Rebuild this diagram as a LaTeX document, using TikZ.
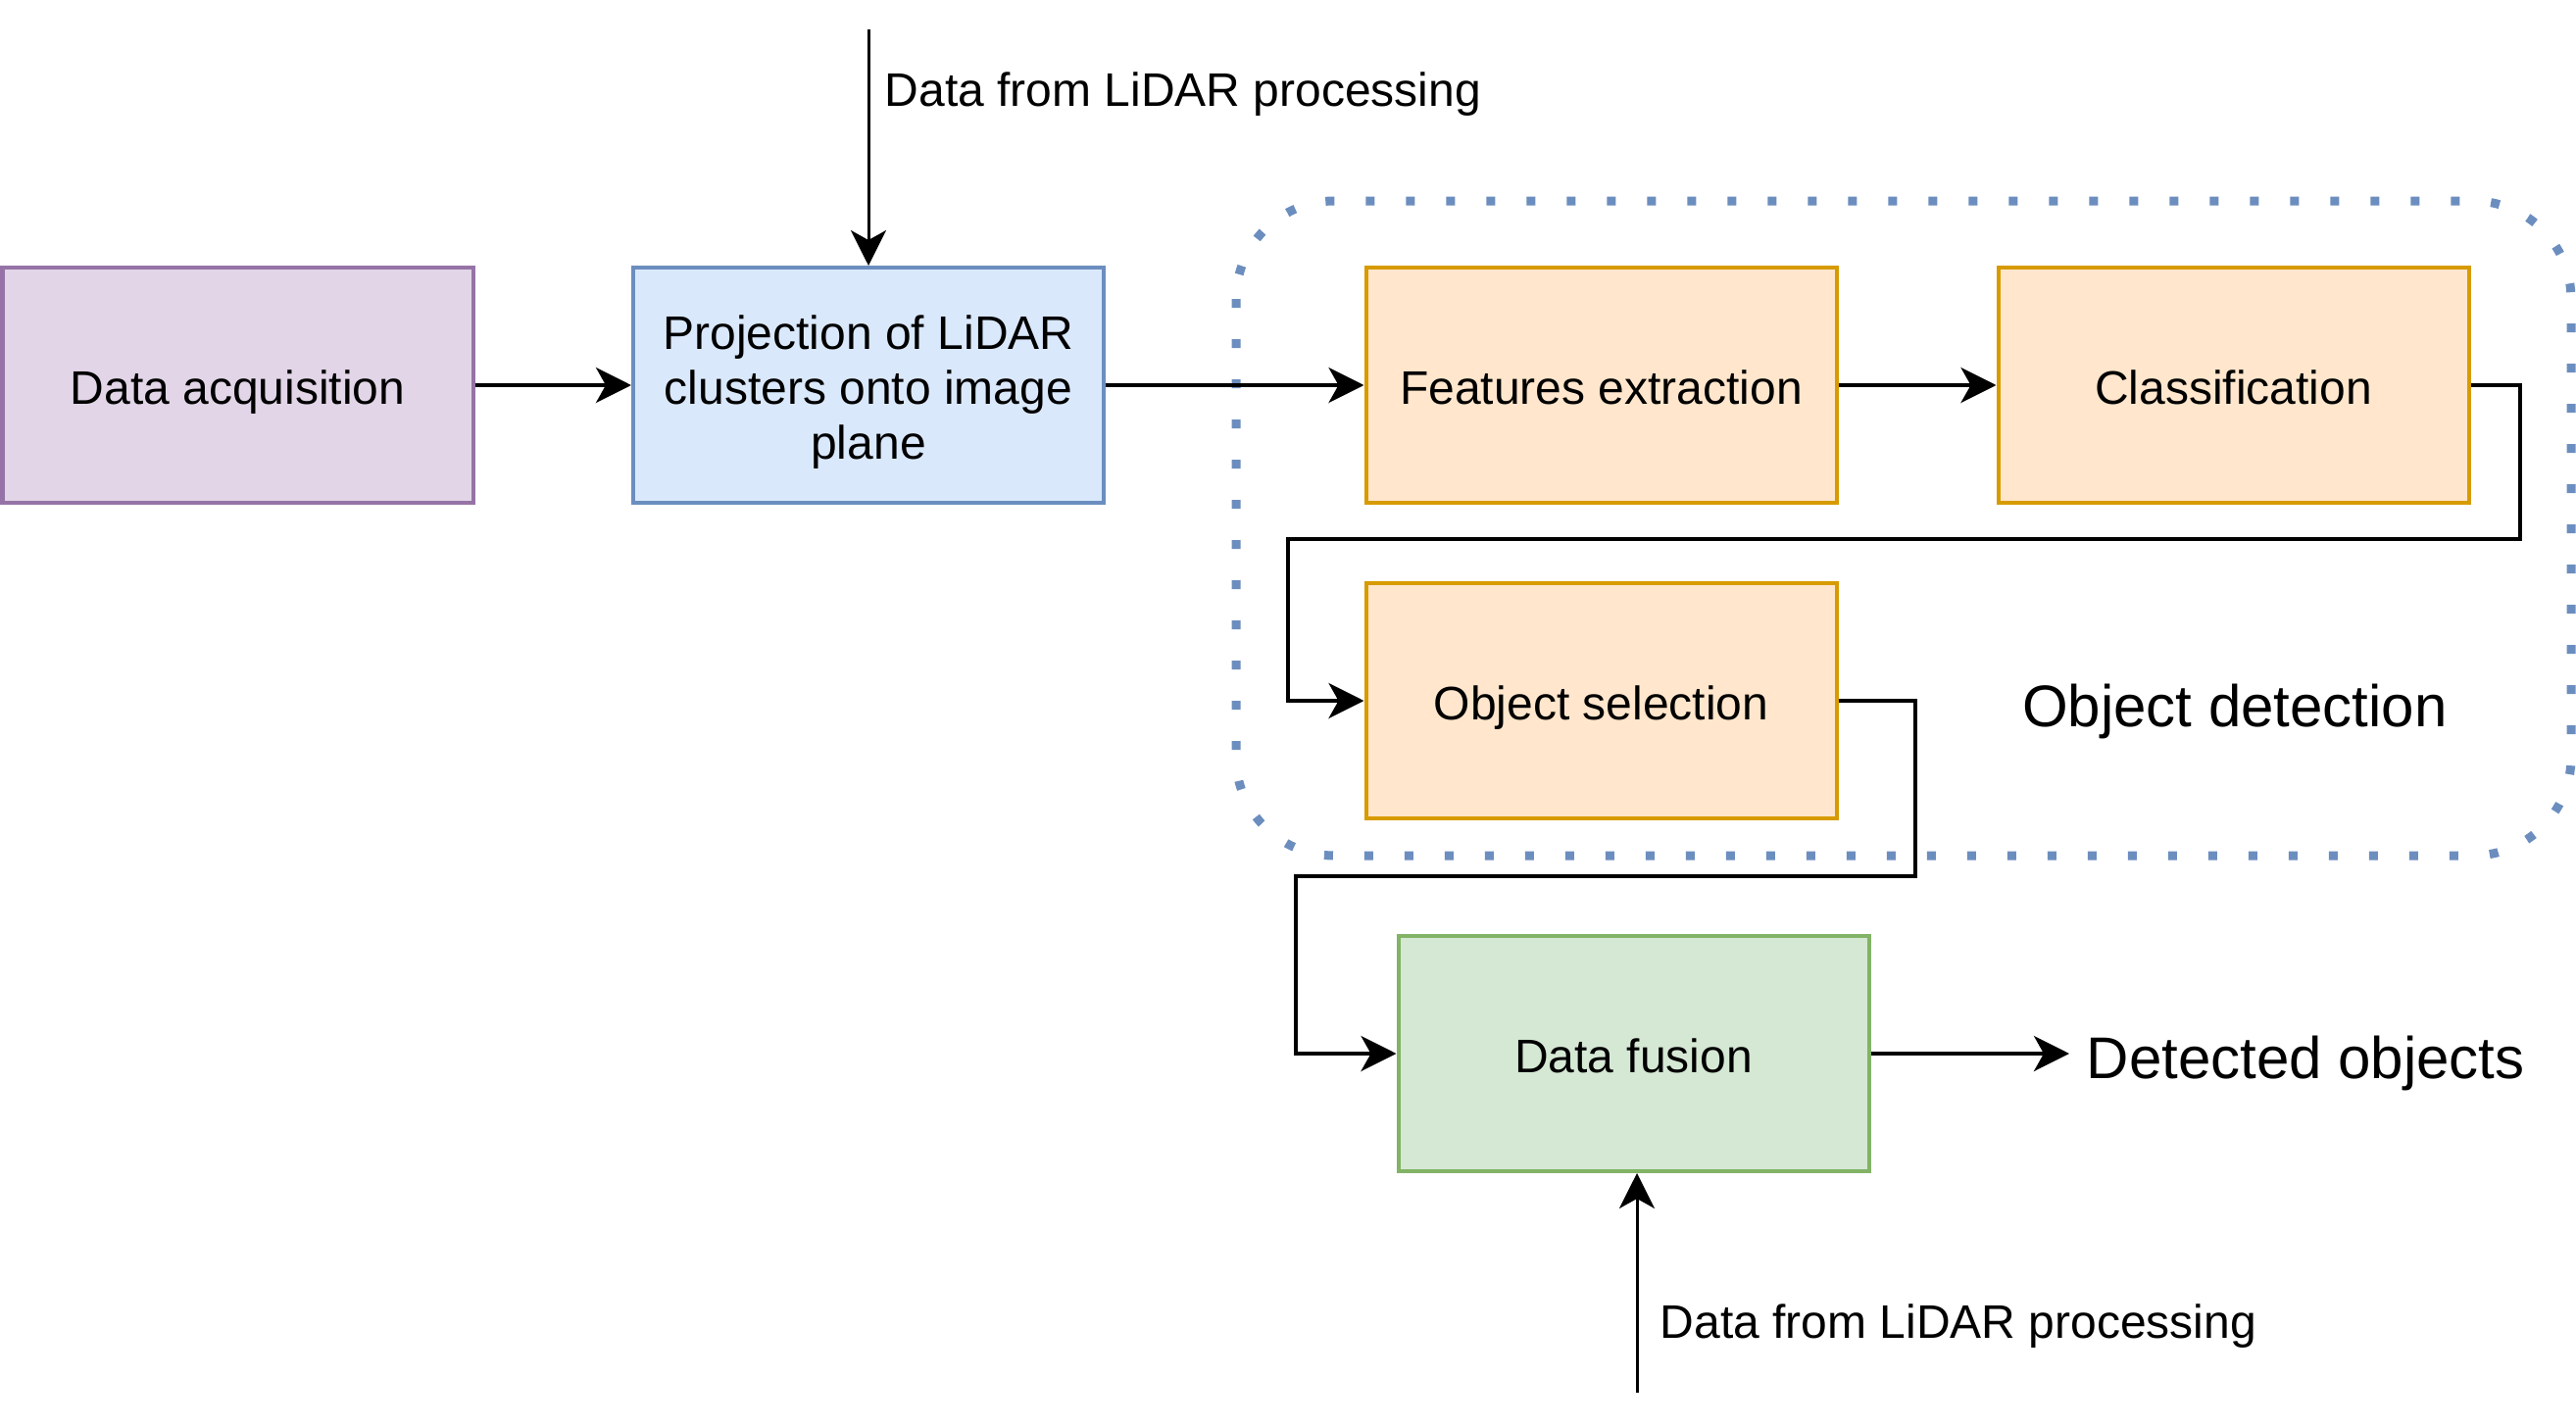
\documentclass[tikz,border=0pt]{standalone}
\usepackage{fontspec}
\setmainfont{Liberation Sans}
\usetikzlibrary{arrows.meta}
\definecolor{purfill}{HTML}{E1D5E7}\definecolor{purdraw}{HTML}{9673A6}
\definecolor{bluefill}{HTML}{DAE8FC}\definecolor{bluedraw}{HTML}{6C8EBF}
\definecolor{orfill}{HTML}{FFE6CC}\definecolor{ordraw}{HTML}{D79B00}
\definecolor{grfill}{HTML}{D5E8D4}\definecolor{grdraw}{HTML}{82B366}
\begin{document}
\begin{tikzpicture}[x=0.25pt,y=-0.25pt,
  box/.style={draw,line width=1pt,minimum width=120pt,minimum height=60pt,inner sep=0pt},
  txt/.style={inner sep=0pt,yshift=-2pt,font=\fontsize{12}{14}\selectfont,align=center},
  arr/.style={line width=1pt,-{Stealth[length=9pt,width=9pt,inset=2.5pt]}},
  thinarr/.style={line width=0.75pt,-{Stealth[length=9pt,width=9pt,inset=2.5pt]}},
  lbl/.style={anchor=west,inner sep=0pt,font=\fontsize{12}{14}\selectfont},
  big/.style={inner sep=0pt,font=\fontsize{15}{18}\selectfont}]
\useasboundingbox (0,0) rectangle (2628,1456);
% dotted group
\draw[color=bluedraw,line width=2.25pt,dash pattern=on 2.25pt off 8pt,rounded corners=25pt]
  (1261,205) rectangle (2623,873);
\node[box,fill=purfill,draw=purdraw,label={[txt]center:{\strut Data acquisition}}] (da) at (242.5,393) {};
\node[box,fill=bluefill,draw=bluedraw,label={[txt]center:{\strut Projection of LiDAR\\\strut clusters onto image\\\strut plane}}] (proj) at (886,393) {};
\node[box,fill=orfill,draw=ordraw,label={[txt]center:{\strut Features extraction}}] (fe) at (1633.5,393) {};
\node[box,fill=orfill,draw=ordraw,label={[txt]center:{\strut Classification}}] (cl) at (2278.5,393) {};
\node[box,fill=orfill,draw=ordraw,label={[txt]center:{\strut Object selection}}] (os) at (1633.5,715) {};
\node[box,fill=grfill,draw=grdraw,label={[txt]center:{\strut Data fusion}}] (df) at (1666.5,1075) {};
\node[big] (od) at (2280,726) {Object detection};
\node[big,anchor=west,inner sep=4pt] (det) at (2111,1075) {};
\node[big,anchor=west] (dettext) at (2128,1085) {Detected objects};
\node[lbl] (tl) at (902,96) {Data from LiDAR processing};
\node[lbl] (bl) at (1693,1353) {Data from LiDAR processing};
\coordinate (t0) at (886,30);
\coordinate (b0) at (1670,1421);
\draw[arr] (da) -- (proj);
\draw[arr] (proj) -- (fe);
\draw[arr] (fe) -- (cl);
\draw[arr] (cl.east) -- (2571,393) -- (2571,550) -- (1314,550) |- (os.west);
\draw[arr] (os.east) -- (1954,715) -- (1954,894) -- (1322,894) |- (df.west);
\draw[arr] (df.east) -- (det.west);
\draw[thinarr] (t0) -- (proj.north);
\draw[thinarr] (b0) -- (b0 |- df.south);
\end{tikzpicture}
\end{document}
